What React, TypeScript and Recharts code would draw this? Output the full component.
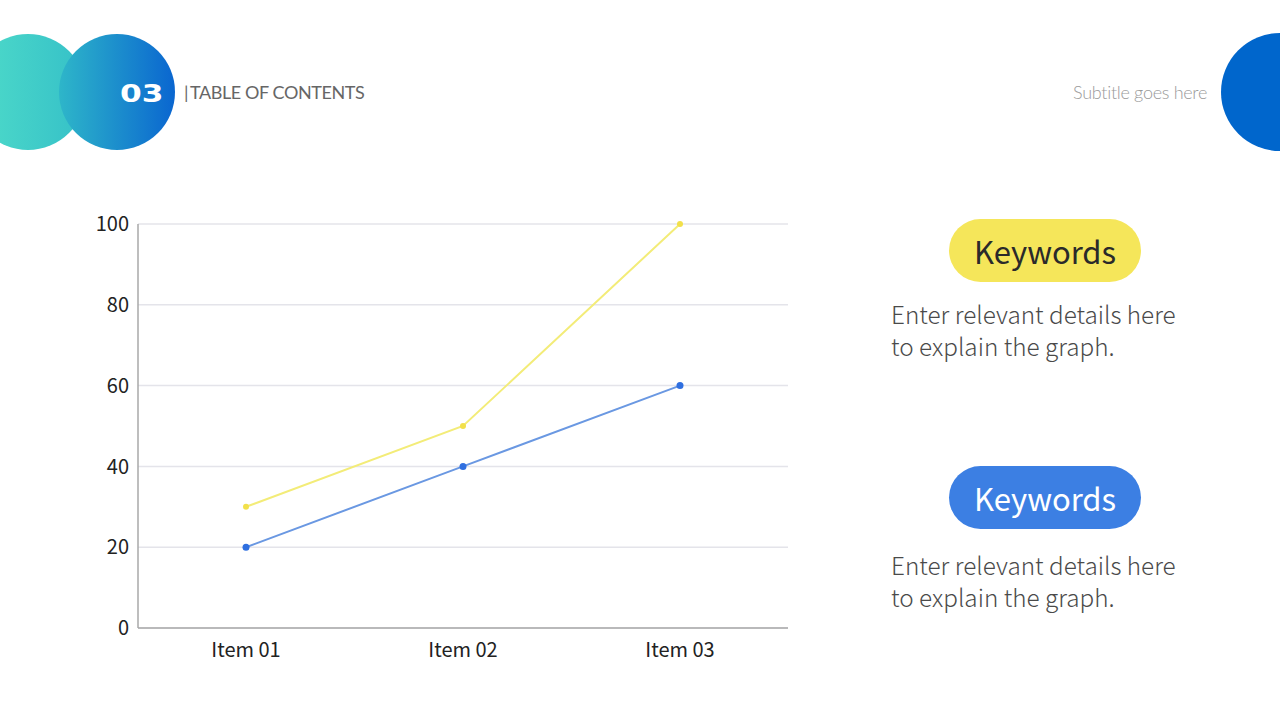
import { LineChart, Line, XAxis, YAxis, CartesianGrid } from 'recharts';

const categories = ['Item 01', 'Item 02', 'Item 03'];
const yellowValues = [30, 50, 100];
const blueValues = [20, 40, 60];
const yTicks = [0, 20, 40, 60, 80, 100];

const data = categories.map((name, i) => ({
  name,
  yellow: yellowValues[i],
  blue: blueValues[i],
}));

const cjk = '"Noto Sans CJK SC", "Noto Sans", sans-serif';

const Pill = ({ top, bg, color }: { top: number; bg: string; color: string }) => (
  <div
    style={{
      position: 'absolute',
      left: 949,
      top,
      width: 192,
      height: 63,
      borderRadius: 32,
      background: bg,
      color,
      fontFamily: cjk,
      fontSize: 31,
      lineHeight: '63px',
      textAlign: 'center',
    }}
  >
    Keywords
  </div>
);

const Details = ({ top }: { top: number }) => (
  <div
    style={{
      position: 'absolute',
      left: 891,
      top,
      fontFamily: cjk,
      fontSize: 24.3,
      fontWeight: 300,
      lineHeight: '32px',
      color: '#4a4a4a',
    }}
  >
    Enter relevant details here
    <br />
    to explain the graph.
  </div>
);

export default function App() {
  return (
    <div
      style={{
        position: 'absolute',
        left: 0,
        top: 0,
        width: 1280,
        height: 720,
        background: '#fff',
        overflow: 'hidden',
      }}
    >
      {/* header circles */}
      <div
        style={{
          position: 'absolute',
          left: -30,
          top: 34,
          width: 116,
          height: 116,
          borderRadius: '50%',
          background: 'linear-gradient(90deg, #4fdcc9, #35c0c8)',
        }}
      />
      <div
        style={{
          position: 'absolute',
          left: 59,
          top: 34,
          width: 116,
          height: 116,
          borderRadius: '50%',
          background: 'linear-gradient(90deg, #2eb6c9, #0a66d0)',
        }}
      />
      <div
        style={{
          position: 'absolute',
          left: 120,
          top: 80,
          fontFamily: '"DejaVu Sans", sans-serif',
          fontWeight: 900,
          fontSize: 24,
          color: '#fff',
          transform: 'scaleX(1.3)',
          transformOrigin: 'left',
        }}
      >
        03
      </div>
      <div
        style={{
          position: 'absolute',
          left: 184,
          top: 81,
          fontFamily: 'Lato, sans-serif',
          fontSize: 18,
          letterSpacing: -0.4,
          color: '#666',
        }}
      >
        |&thinsp;TABLE OF CONTENTS
      </div>
      <div
        style={{
          position: 'absolute',
          right: 73,
          top: 81,
          fontFamily: 'Lato, sans-serif',
          fontWeight: 300,
          fontSize: 18,
          color: '#9a9a9a',
          letterSpacing: -0.3,
        }}
      >
        Subtitle goes here
      </div>
      <div
        style={{
          position: 'absolute',
          left: 1221,
          top: 33,
          width: 118,
          height: 118,
          borderRadius: '50%',
          background: '#0066cc',
        }}
      />

      <div style={{ position: 'absolute', left: 60, top: 200 }}>
        <LineChart
          width={740}
          height={470}
          data={data}
          margin={{ top: 24, right: 12, bottom: 12, left: 0 }}
        >
          <CartesianGrid vertical={false} stroke="#e4e4ea" strokeWidth={1.5} />
          <XAxis
            dataKey="name"
            padding={{ left: 108, right: 108 }}
            tickLine={false}
            tickSize={0}
            tickMargin={15}
            height={30}
            axisLine={{ stroke: '#a8a8a8', strokeWidth: 1.5 }}
            tick={{ fill: '#222', fontSize: 20, fontFamily: cjk }}
          />
          <YAxis
            ticks={yTicks}
            domain={[0, 100]}
            width={78}
            tickLine={false}
            tickSize={0}
            tickMargin={9}
            axisLine={{ stroke: '#a8a8a8', strokeWidth: 1.5 }}
            tick={{ fill: '#222', fontSize: 20, fontFamily: cjk }}
          />
          <Line
            dataKey="yellow"
            type="linear"
            stroke="#f3ec78"
            strokeWidth={2}
            dot={{ r: 3, fill: '#f2e04a', stroke: 'none' }}
            isAnimationActive={false}
          />
          <Line
            dataKey="blue"
            type="linear"
            stroke="#6a98e2"
            strokeWidth={2}
            dot={{ r: 3.5, fill: '#2f6fe0', stroke: 'none' }}
            isAnimationActive={false}
          />
        </LineChart>
      </div>

      <Pill top={219} bg="#f5e65a" color="#2a2a2a" />
      <Details top={298} />
      <Pill top={466} bg="#3c7fe3" color="#fff" />
      <Details top={549} />
    </div>
  );
}
